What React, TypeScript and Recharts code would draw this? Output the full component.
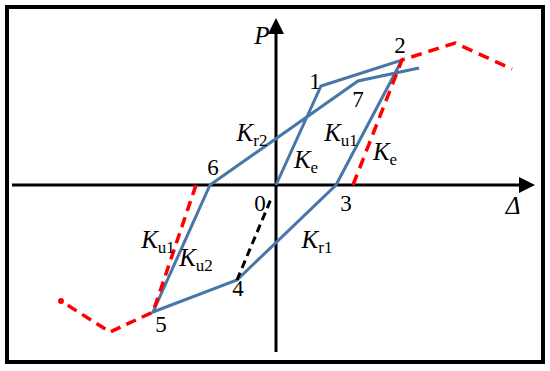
import { LineChart, Line, XAxis, YAxis, ReferenceLine, ReferenceDot } from "recharts";

// hysteresis loop: 0 -> 1 -> 2 -> 3 -> 4 -> 5 -> 6 -> 7 -> beyond
const loopPath = [
  { x: 0, y: 0 },
  { x: 4.5, y: 9.9 },
  { x: 12.6, y: 12.5 },
  { x: 6.0, y: 0 },
  { x: -3.9, y: -9.5 },
  { x: -12.3, y: -12.7 },
  { x: -6.6, y: 0 },
  { x: 8.2, y: 10.4 },
  { x: 14.3, y: 11.7 },
];

const skeletonRight = [
  { x: 7.7, y: 0 },
  { x: 12.6, y: 12.5 },
  { x: 17.9, y: 14.2 },
  { x: 23.6, y: 11.6 },
];

const skeletonLeft = [
  { x: -8.0, y: 0 },
  { x: -12.3, y: -12.7 },
  { x: -16.6, y: -14.7 },
  { x: -21.5, y: -11.6 },
];

const unloadPath = [
  { x: -3.9, y: -9.5 },
  { x: -0.5, y: -1.4 },
];

// text annotations: main text, subscript, anchor in chart units
const pointLabels = [
  { t: "1", x: 3.9, y: 10.4 },
  { t: "2", x: 12.4, y: 14.0 },
  { t: "7", x: 8.2, y: 8.6 },
  { t: "6", x: -6.3, y: 1.8 },
  { t: "0", x: -1.6, y: -1.8 },
  { t: "3", x: 7.0, y: -1.8 },
  { t: "4", x: -3.8, y: -10.3 },
  { t: "5", x: -11.5, y: -13.9 },
];

const stiffLabels = [
  { t: "K", s: "r2", x: -2.4, y: 5.2 },
  { t: "K", s: "e", x: 3.0, y: 2.5 },
  { t: "K", s: "u1", x: 6.5, y: 5.2 },
  { t: "K", s: "e", x: 10.9, y: 3.3 },
  { t: "K", s: "r1", x: 4.1, y: -5.5 },
  { t: "K", s: "u1", x: -11.8, y: -5.5 },
  { t: "K", s: "u2", x: -8.0, y: -7.3 },
];

const axisLabels = [
  { t: "P", x: -1.4, y: 15.0 },
  { t: "Δ", x: 23.7, y: -2.0 },
];

const FONT = "Liberation Serif";
const BLUE = "#4677A8";

export default function App() {
  return (
    <div style={{ position: "absolute", left: 0, top: 0, width: 550, height: 371, background: "#fff" }}>
      <LineChart width={550} height={371} margin={{ top: 0, right: 0, bottom: 0, left: 0 }}>
        <XAxis dataKey="x" type="number" domain={[-27.6, 27.4]} hide allowDataOverflow />
        <YAxis dataKey="y" type="number" domain={[-18.6, 18.5]} hide allowDataOverflow />

        {/* axes with arrows */}
        <ReferenceLine segment={[{ x: -26.4, y: 0 }, { x: 24.6, y: 0 }]} stroke="#000" strokeWidth={3} />
        <ReferenceLine segment={[{ x: 0, y: -16.7 }, { x: 0, y: 15.3 }]} stroke="#000" strokeWidth={3} />
        <ReferenceDot
          x={25.9}
          y={0}
          shape={(p: any) => (
            <polygon points={`${p.cx},${p.cy} ${p.cx - 16},${p.cy - 8} ${p.cx - 16},${p.cy + 8}`} fill="#000" />
          )}
        />
        <ReferenceDot
          x={0}
          y={16.7}
          shape={(p: any) => (
            <polygon points={`${p.cx},${p.cy} ${p.cx - 8},${p.cy + 16} ${p.cx + 8},${p.cy + 16}`} fill="#000" />
          )}
        />

        <Line data={loopPath} dataKey="y" stroke={BLUE} strokeWidth={3} dot={false} isAnimationActive={false} />
        <Line data={unloadPath} dataKey="y" stroke="#000" strokeWidth={3} strokeDasharray="8 5" dot={false} isAnimationActive={false} />
        <Line data={skeletonRight} dataKey="y" stroke="#ff0000" strokeWidth={3.5} strokeDasharray="11 7" dot={false} isAnimationActive={false} />
        <Line data={skeletonLeft} dataKey="y" stroke="#ff0000" strokeWidth={3.5} strokeDasharray="10.5 6.5" dot={false} isAnimationActive={false} />

        {pointLabels.map((a, i) => (
          <ReferenceDot
            key={"p" + i}
            x={a.x}
            y={a.y}
            shape={(p: any) => (
              <text x={p.cx} y={p.cy} textAnchor="middle" dominantBaseline="central" fontFamily={FONT} fontSize={23} fill="#000">
                {a.t}
              </text>
            )}
          />
        ))}
        {axisLabels.map((a, i) => (
          <ReferenceDot
            key={"a" + i}
            x={a.x}
            y={a.y}
            shape={(p: any) => (
              <text x={p.cx} y={p.cy} textAnchor="middle" dominantBaseline="central" fontFamily={FONT} fontStyle="italic" fontSize={25} fill="#000">
                {a.t}
              </text>
            )}
          />
        ))}
        {stiffLabels.map((a, i) => (
          <ReferenceDot
            key={"k" + i}
            x={a.x}
            y={a.y}
            shape={(p: any) => (
              <text x={p.cx} y={p.cy + 8} textAnchor="middle" fontFamily={FONT} fontSize={25} fill="#000">
                <tspan fontStyle="italic">{a.t}</tspan>
                <tspan fontSize={17} dy={5}>{a.s}</tspan>
              </text>
            )}
          />
        ))}
      </LineChart>
      <div
        style={{
          position: "absolute",
          left: 5,
          top: 5,
          width: 532,
          height: 351,
          border: "4px solid #000",
          pointerEvents: "none",
        }}
      />
    </div>
  );
}
